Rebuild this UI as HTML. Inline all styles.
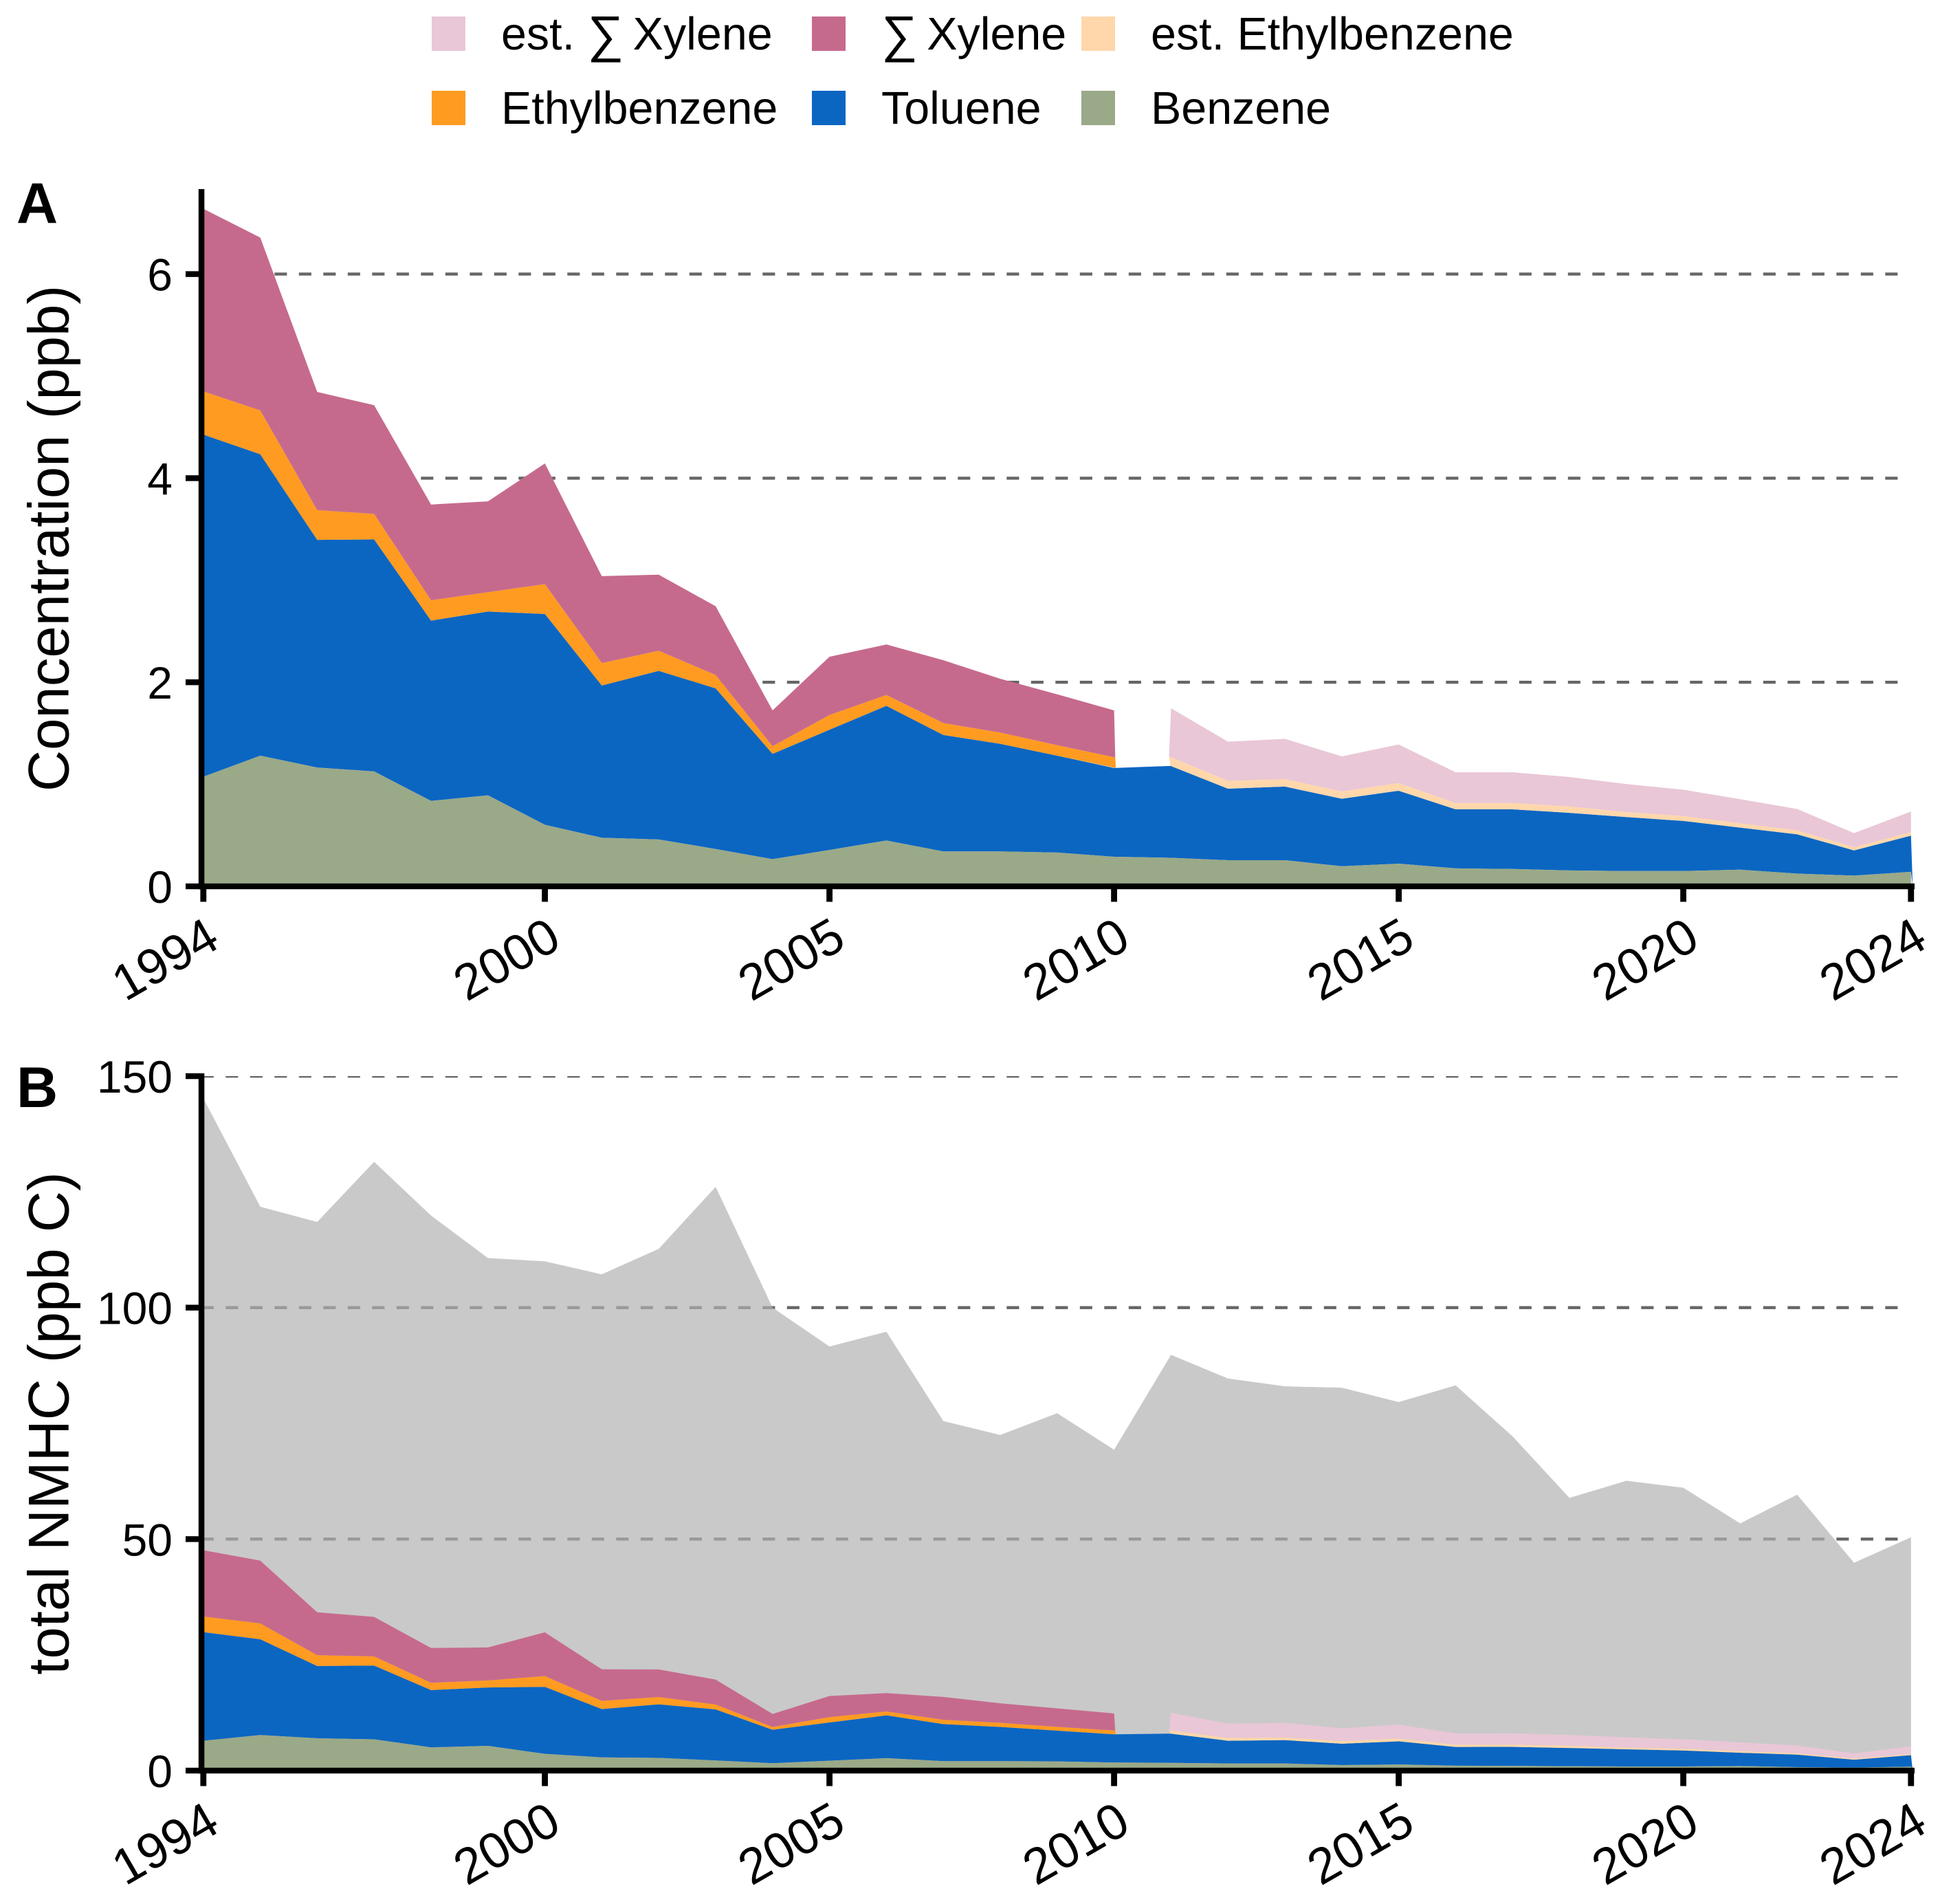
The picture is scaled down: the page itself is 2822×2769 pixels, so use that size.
<!DOCTYPE html>
<html lang="en">
<head>
<meta charset="utf-8">
<title>Aromatic hydrocarbon concentrations 1994-2024</title>
<style>
html,body{margin:0;padding:0;background:#fff;}
svg{display:block;font-family:"Liberation Sans",Arial,sans-serif;}
</style>
</head>
<body>
<svg id="chart" xmlns="http://www.w3.org/2000/svg" width="2822" height="2769" viewBox="0 0 2822 2769">
  <rect x="0" y="0" width="2822" height="2769" fill="#ffffff"/>
  <g id="legend" font-size="66.4" fill="#000">
    <g>
      <rect x="628" y="24" width="49" height="50" fill="#E9C7D6"/>
      <text x="729" y="72">est. <tspan font-size="74" dy="3">∑</tspan><tspan dy="-3" dx="-5"> Xylene</tspan></text>
    </g>
    <g>
      <rect x="1181" y="24" width="49" height="50" fill="#C66A8D"/>
      <text x="1282" y="72"><tspan font-size="74" dy="3">∑</tspan><tspan dy="-3" dx="-5"> Xylene</tspan></text>
    </g>
    <g>
      <rect x="1573" y="24" width="49" height="50" fill="#FFD7AB"/>
      <text x="1674" y="72">est. Ethylbenzene</text>
    </g>
    <g>
      <rect x="628" y="132" width="49" height="50" fill="#FF9B21"/>
      <text x="729" y="180">Ethylbenzene</text>
    </g>
    <g>
      <rect x="1181" y="132" width="49" height="50" fill="#0B66C2"/>
      <text x="1282" y="180">Toluene</text>
    </g>
    <g>
      <rect x="1573" y="132" width="49" height="50" fill="#9AA988"/>
      <text x="1674" y="180">Benzene</text>
    </g>
  </g>
  <text x="24" y="324" font-size="83.3" font-weight="bold">A</text>
  <text x="24" y="1610" font-size="83.3" font-weight="bold">B</text>
  <text transform="translate(99.5 783) rotate(-90)" text-anchor="middle" font-size="83.3">Concentration (ppb)</text>
  <text transform="translate(99.5 2070) rotate(-90)" text-anchor="middle" font-size="83.3">total NMHC (ppb C)</text>
  <g id="panel-a"></g>
  <g id="panel-b"></g>
</svg>
<script>
/* Shared categories and ticks */
const years = [1994,1995,1996,1997,1998,1999,2000,2001,2002,2003,2004,2005,2006,2007,2008,2009,2010,2011,2012,2013,2014,2015,2016,2017,2018,2019,2020,2021,2022,2023,2024];
const xTickLabels = [1994,2000,2005,2010,2015,2020,2024];
const yTicksA = [0,2,4,6];
const yTicksB = [0,50,100,150];
const gridA = [2,4,6];
const gridB = [50,100,150];

/* Panel A: concentration (ppb) per compound */
const benzeneA = [1.074,1.28,1.164,1.126,0.837,0.892,0.603,0.476,0.459,0.366,0.266,0.356,0.449,0.342,0.342,0.331,0.29,0.28,0.256,0.256,0.197,0.222,0.176,0.17,0.156,0.15,0.15,0.163,0.125,0.105,0.142];
const tolueneA = [3.353,2.954,2.231,2.274,1.767,1.801,2.066,1.492,1.653,1.574,1.032,1.179,1.32,1.141,1.055,0.949,0.87,0.9,0.701,0.722,0.661,0.715,0.579,0.585,0.564,0.529,0.491,0.412,0.385,0.247,0.355];
const ethylbenzeneA = [0.423,0.43,0.292,0.25,0.199,0.189,0.293,0.22,0.197,0.131,0.075,0.144,0.106,0.117,0.11,0.103,0.103,null,null,null,null,null,null,null,null,null,null,null,null,null,null];
const estEthylbenzeneA = [null,null,null,null,null,null,null,null,null,null,null,null,null,null,null,null,null,0.094,0.076,0.072,0.072,0.075,0.061,0.061,0.062,0.048,0.048,0.042,0.038,0.031,0.034];
const xyleneA = [1.79,1.694,1.158,1.065,0.939,0.891,1.182,0.852,0.745,0.674,0.351,0.571,0.495,0.616,0.527,0.499,0.461,null,null,null,null,null,null,null,null,null,null,null,null,null,null];
const estXyleneA = [null,null,null,null,null,null,null,null,null,null,null,null,null,null,null,null,null,0.471,0.385,0.395,0.344,0.378,0.302,0.302,0.289,0.275,0.258,0.237,0.21,0.138,0.203];

/* Panel B: ppb C per compound, plus total NMHC */
const totalNmhcB = [145.2,121.8,118.5,131.5,119.9,110.7,110,107.2,112.7,126.1,100,91.6,94.8,75.5,72.5,77.2,69.3,89.8,84.7,83,82.7,79.6,83.2,72.2,58.9,62.6,61.1,53.4,59.6,44.9,50.4];
const benzeneB = [6.44,7.68,6.98,6.76,5.02,5.35,3.62,2.86,2.75,2.2,1.6,2.14,2.69,2.05,2.05,1.99,1.74,1.68,1.54,1.54,1.18,1.33,1.06,1.02,0.94,0.9,0.9,0.98,0.75,0.63,0.85];
const tolueneB = [23.47,20.68,15.62,15.92,12.37,12.61,14.46,10.44,11.57,11.02,7.22,8.25,9.24,7.99,7.39,6.64,6.09,6.3,4.91,5.05,4.63,5.0,4.05,4.1,3.95,3.7,3.44,2.88,2.7,1.73,2.49];
const ethylbenzeneB = [3.38,3.44,2.34,2.0,1.59,1.51,2.34,1.76,1.58,1.05,0.6,1.15,0.85,0.94,0.88,0.82,0.82,null,null,null,null,null,null,null,null,null,null,null,null,null,null];
const estEthylbenzeneB = [null,null,null,null,null,null,null,null,null,null,null,null,null,null,null,null,null,0.75,0.61,0.58,0.58,0.6,0.49,0.49,0.5,0.38,0.38,0.34,0.3,0.25,0.27];
const xyleneB = [14.32,13.55,9.26,8.52,7.51,7.13,9.46,6.82,5.96,5.39,2.81,4.57,3.96,4.93,4.22,3.99,3.69,null,null,null,null,null,null,null,null,null,null,null,null,null,null];
const estXyleneB = [null,null,null,null,null,null,null,null,null,null,null,null,null,null,null,null,null,3.77,3.08,3.16,2.75,3.02,2.42,2.42,2.31,2.2,2.06,1.9,1.68,1.1,1.62];

const SVG_NS = 'http://www.w3.org/2000/svg';
const COLORS = {benzene:'#9AA988', toluene:'#0B66C2', eth:'#FF9B21', estEth:'#FFD7AB', xyl:'#C66A8D', estXyl:'#E9C7D6', total:'#B0B0B0'};
const X0 = 295.8, PX_PER_YEAR = 82.8;
function xScale(year){ return X0 + PX_PER_YEAR * (year - years[0]); }
function yScaleA(v){ return 1289 - 148.4 * v; }
function yScaleB(v){ return 2575 - 6.733 * v; }

function make(tag, parent, props){
  const el = document.createElementNS(SVG_NS, tag);
  Object.keys(props).forEach(function(k){ el.setAttribute(k, props[k]); });
  parent.appendChild(el);
  return el;
}
function num(v){ return v === null ? 0 : v; }
function pt(year, value, yScale){ return xScale(year).toFixed(2) + ',' + yScale(value).toFixed(2); }

/* Build a polygon between two cumulative boundaries; slants reproduce the slightly
   sheared edges of the source areas where a series starts or stops. */
function band(tops, bottoms, i0, i1, yScale, opt){
  opt = opt || {};
  const pts = [];
  if (opt.leftTop !== undefined) pts.push(pt(years[i0] + opt.leftTop, tops[i0], yScale));
  for (let i = i0; i <= i1; i++) {
    if (!(i === i0 && opt.leftTop !== undefined) && !(i === i1 && opt.rightTop !== undefined)) pts.push(pt(years[i], tops[i], yScale));
  }
  if (opt.rightTop !== undefined) pts.push(pt(years[i1] + opt.rightTop, tops[i1], yScale));
  if (opt.rightExtra !== undefined) pts.push(pt(years[i1] + opt.rightExtra, 0, yScale));
  if (opt.rightBottom !== undefined) pts.push(pt(years[i1] + opt.rightBottom, bottoms[i1], yScale));
  else pts.push(pt(years[i1], bottoms[i1], yScale));
  for (let i = i1 - 1; i > i0; i--) pts.push(pt(years[i], bottoms[i], yScale));
  if (opt.leftBottom !== undefined) pts.push(pt(years[i0] + opt.leftBottom, bottoms[i0], yScale));
  else pts.push(pt(years[i0], bottoms[i0], yScale));
  return pts.join(' ');
}

function drawPanel(g, cfg){
  const yScale = cfg.yScale;
  const y0 = yScale(0);

  /* Gridlines */
  const clipId = cfg.key + '-grid-clip';
  const defs = make('defs', g, {});
  
  
  const clip = make('clipPath', defs, {id: clipId});
  make('rect', clip, {x: 0, y: cfg.clipTop, width: 2822, height: 1400});
  cfg.grid.forEach(function(v){
    const line = make('line', g, {x1: 292.8, x2: 2766, y1: yScale(v), y2: yScale(v), stroke: '#666666', 'stroke-width': 4.4, 'stroke-dasharray': '18.1 17.4', 'clip-path': 'url(#' + clipId + ')'});
    
    
  });

  /* Total NMHC backdrop */
  if (cfg.total) {
    const zeros = cfg.total.map(function(){ return 0; });
    const totalArea = make('polygon', g, {points: band(cfg.total, zeros, 0, years.length - 1, yScale), fill: COLORS.total, 'fill-opacity': 0.686});
    
    
  }

  /* Stacked boundaries */
  const zeroLine = [], benzTop = [], tolTop = [], ethTop = [], xylTop = [];
  years.forEach(function(_, i){
    zeroLine.push(0);
    benzTop.push(cfg.benzene[i]);
    tolTop.push(benzTop[i] + cfg.toluene[i]);
    ethTop.push(tolTop[i] + num(cfg.eth[i]) + num(cfg.estEth[i]));
    xylTop.push(ethTop[i] + num(cfg.xyl[i]) + num(cfg.estXyl[i]));
  });
  const lastMeasured = cfg.eth.lastIndexOf(cfg.eth.filter(function(v){ return v !== null; }).slice(-1)[0]);
  const firstEst = cfg.estEth.findIndex(function(v){ return v !== null; });
  const last = years.length - 1;

  const blue = make('polygon', g, {points: band(tolTop, benzTop, 0, last, yScale, {rightExtra: 0.03}), fill: COLORS.toluene});
  
  

  const benz = make('polygon', g, {points: band(benzTop, zeroLine, 0, last, yScale), fill: COLORS.benzene});
  
  

  const eth = make('polygon', g, {points: band(ethTop, tolTop, 0, lastMeasured, yScale, {rightTop: 0.02, rightBottom: 0.03}), fill: COLORS.eth});
  
  

  const estEth = make('polygon', g, {points: band(ethTop, tolTop, firstEst, last, yScale, {leftTop: -0.035, leftBottom: -0.01}), fill: COLORS.estEth});
  
  

  const xyl = make('polygon', g, {points: band(xylTop, ethTop, 0, lastMeasured, yScale, {rightBottom: 0.02}), fill: COLORS.xyl});
  
  

  const estXyl = make('polygon', g, {points: band(xylTop, ethTop, firstEst, last, yScale, {leftBottom: -0.035}), fill: COLORS.estXyl});
  
  

  /* Axes */
  const yAxis = make('rect', g, {x: 288.8, y: cfg.axisTop, width: 8.5, height: y0 + 4.2 - cfg.axisTop, fill: '#000'});
  
  
  const xAxis = make('rect', g, {x: 288.8, y: y0 - 4.2, width: 2496.2, height: 8.4, fill: '#000'});
  
  

  cfg.yTicks.forEach(function(v){
    const tick = make('rect', g, {x: 270, y: yScale(v) - 4.2, width: 22, height: 8.4, fill: '#000'});
    
    
    const label = make('text', g, {x: 251, y: yScale(v) + 24, 'text-anchor': 'end', 'font-size': 66, fill: '#000'});
    label.textContent = String(v);
    
    
  });

  xTickLabels.forEach(function(yr){
    const px = xScale(yr);
    const tick = make('rect', g, {x: px - 4.4, y: y0 + 4, width: 8.8, height: 18.5, fill: '#000'});
    
    
    const label = make('text', g, {transform: 'translate(' + (px + 27).toFixed(1) + ' ' + (y0 + 87).toFixed(1) + ') rotate(-30)', 'text-anchor': 'end', 'font-size': 73, fill: '#000'});
    label.textContent = String(yr);
    
    
  });
}

drawPanel(document.getElementById('panel-a'), {
  key: 'panel-a', yScale: yScaleA, grid: gridA, yTicks: yTicksA, axisTop: 275, clipTop: 275,
  benzene: benzeneA, toluene: tolueneA, eth: ethylbenzeneA, estEth: estEthylbenzeneA, xyl: xyleneA, estXyl: estXyleneA
});
drawPanel(document.getElementById('panel-b'), {
  key: 'panel-b', yScale: yScaleB, grid: gridB, yTicks: yTicksB, axisTop: 1561, clipTop: 1565, total: totalNmhcB,
  benzene: benzeneB, toluene: tolueneB, eth: ethylbenzeneB, estEth: estEthylbenzeneB, xyl: xyleneB, estXyl: estXyleneB
});
</script>
</body>
</html>
